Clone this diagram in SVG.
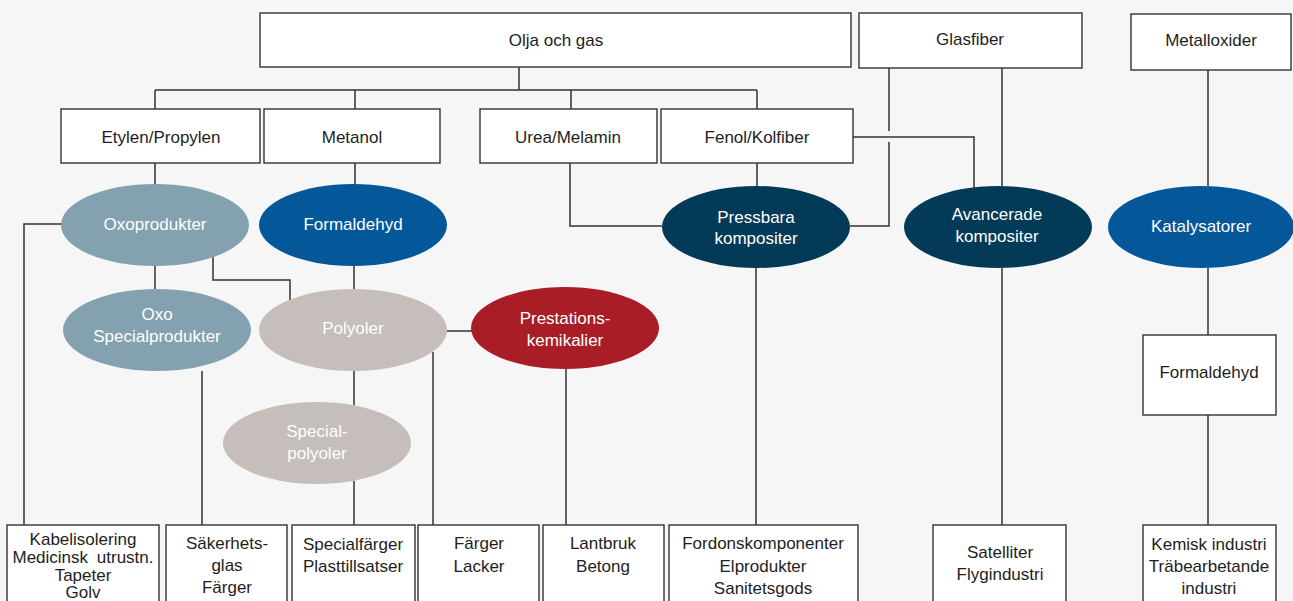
<svg xmlns="http://www.w3.org/2000/svg" width="1293" height="601" viewBox="0 0 1293 601">
<style>
.bx{fill:#fff;stroke:#333;stroke-width:1.4}
.t{font-family:"Liberation Sans",Arial,sans-serif;font-size:17px;fill:#1e1e1e;text-anchor:middle}
.w{font-family:"Liberation Sans",Arial,sans-serif;font-size:17px;fill:#fff;text-anchor:middle}
.c{fill:none;stroke:#333;stroke-width:1.5}
.oxo{fill:#84a1b0}
.blue{fill:#04589a}
.grey{fill:#c5bebb}
.red{fill:#a91e26}
.navy{fill:#033a58}
</style>
<rect width="1293" height="601" fill="#f6f6f6"/>
<g id="connectors" class="c">
<path d="M519 67V90M155 90H757M155 90V109M355 90V109M571 90V109M757 90V109"/>
<path d="M155 163V185M355 163V185M757 163V186"/>
<path d="M570 163V226H662"/>
<path d="M889 68V131M889 142V226H850"/>
<path d="M853 137H974V188"/>
<path d="M1002 68V186M1002 268V525"/>
<path d="M1208 70V186M1208 268V335M1208 415V525"/>
<path d="M62 224H24V525"/>
<path d="M155 266V289"/>
<path d="M213 257V280H290V300"/>
<path d="M354 266V289"/>
<path d="M202 371V525"/>
<path d="M447 331H472"/>
<path d="M433 352V525"/>
<path d="M354 371V405M354 481V525"/>
<path d="M566 369V525"/>
<path d="M756 268V525"/>
</g>
<g id="olja"><rect class="bx" x="260" y="13" width="591" height="54"/><text class="t" x="556" y="46">Olja och gas</text></g>
<g id="glasfiber"><rect class="bx" x="859" y="13" width="223" height="55"/><text class="t" x="970" y="45">Glasfiber</text></g>
<g id="metalloxider"><rect class="bx" x="1131" y="14" width="160" height="56"/><text class="t" x="1211" y="46">Metalloxider</text></g>
<g id="etylen"><rect class="bx" x="61" y="109" width="199" height="54"/><text class="t" x="161" y="143">Etylen/Propylen</text></g>
<g id="metanol"><rect class="bx" x="264" y="109" width="176" height="54"/><text class="t" x="352" y="143">Metanol</text></g>
<g id="urea"><rect class="bx" x="480" y="109" width="177" height="54"/><text class="t" x="568" y="143">Urea/Melamin</text></g>
<g id="fenol"><rect class="bx" x="661" y="109" width="192" height="54"/><text class="t" x="757" y="143">Fenol/Kolfiber</text></g>
<g id="oxoprodukter"><ellipse class="oxo" cx="155" cy="225" rx="94" ry="41"/><text class="w" x="155" y="230">Oxoprodukter</text></g>
<g id="formaldehyd-e"><ellipse class="blue" cx="353" cy="225" rx="94" ry="41"/><text class="w" x="353" y="230">Formaldehyd</text></g>
<g id="pressbara"><ellipse class="navy" cx="756" cy="227" rx="94" ry="41"/><text class="w" x="756" y="223">Pressbara</text><text class="w" x="756" y="244">kompositer</text></g>
<g id="avancerade"><ellipse class="navy" cx="998" cy="227" rx="94" ry="41"/><text class="w" x="997" y="220">Avancerade</text><text class="w" x="997" y="242">kompositer</text></g>
<g id="katalysatorer"><ellipse class="blue" cx="1201" cy="227" rx="93" ry="41"/><text class="w" x="1201" y="232">Katalysatorer</text></g>
<g id="oxospecial"><ellipse class="oxo" cx="157" cy="330" rx="94" ry="41"/><text class="w" x="157" y="320">Oxo</text><text class="w" x="157" y="342">Specialprodukter</text></g>
<g id="polyoler"><ellipse class="grey" cx="353" cy="330" rx="94" ry="41"/><text class="w" x="353" y="334">Polyoler</text></g>
<g id="prestations"><ellipse class="red" cx="565" cy="328" rx="94" ry="41"/><text class="w" x="565" y="324">Prestations-</text><text class="w" x="565" y="346">kemikalier</text></g>
<g id="specialpolyoler"><ellipse class="grey" cx="317" cy="443" rx="94" ry="41"/><text class="w" x="317" y="437">Special-</text><text class="w" x="317" y="459">polyoler</text></g>
<g id="formaldehyd-box"><rect class="bx" x="1143" y="335" width="133" height="80"/><text class="t" x="1209" y="378">Formaldehyd</text></g>
<g id="kabel"><rect class="bx" x="7" y="525" width="152" height="100"/><text class="t" x="83" y="545">Kabelisolering</text><text class="t" x="83" y="563" word-spacing="4">Medicinsk utrustn.</text><text class="t" x="83" y="581">Tapeter</text><text class="t" x="83" y="598">Golv</text></g>
<g id="sakerhet"><rect class="bx" x="166" y="525" width="121" height="100"/><text class="t" x="227" y="549">Säkerhets-</text><text class="t" x="227" y="571">glas</text><text class="t" x="227" y="593">Färger</text></g>
<g id="specialfarger"><rect class="bx" x="292" y="525" width="123" height="100"/><text class="t" x="353" y="550">Specialfärger</text><text class="t" x="353" y="572">Plasttillsatser</text></g>
<g id="farger"><rect class="bx" x="418" y="525" width="121" height="100"/><text class="t" x="479" y="549">Färger</text><text class="t" x="479" y="572">Lacker</text></g>
<g id="lantbruk"><rect class="bx" x="543" y="525" width="121" height="100"/><text class="t" x="603" y="549">Lantbruk</text><text class="t" x="603" y="572">Betong</text></g>
<g id="fordon"><rect class="bx" x="669" y="525" width="189" height="100"/><text class="t" x="763" y="549">Fordonskomponenter</text><text class="t" x="763" y="572">Elprodukter</text><text class="t" x="763" y="594">Sanitetsgods</text></g>
<g id="satelliter"><rect class="bx" x="933" y="525" width="133" height="100"/><text class="t" x="1000" y="558">Satelliter</text><text class="t" x="1000" y="580">Flygindustri</text></g>
<g id="kemisk"><rect class="bx" x="1143" y="525" width="133" height="100"/><text class="t" x="1209" y="550">Kemisk industri</text><text class="t" x="1209" y="572">Träbearbetande</text><text class="t" x="1209" y="594">industri</text></g>
</svg>
